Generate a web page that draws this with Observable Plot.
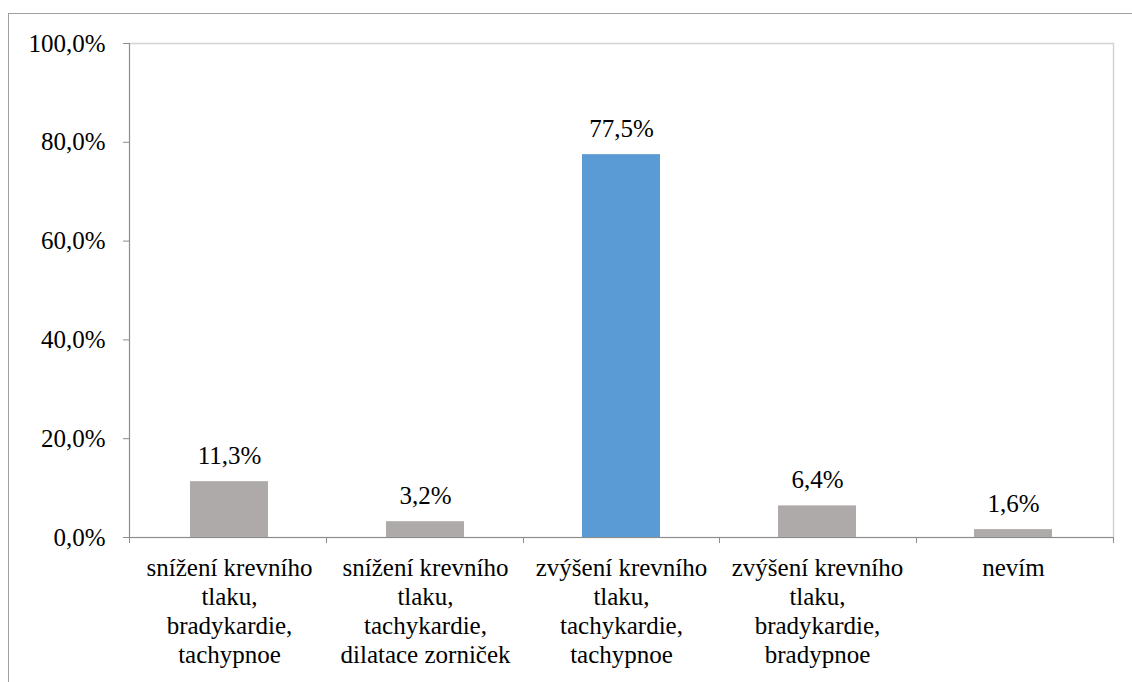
<!DOCTYPE html>
<html><head><meta charset="utf-8">
<script src="https://cdn.jsdelivr.net/npm/d3@7"></script>
<script src="https://cdn.jsdelivr.net/npm/@observablehq/plot@0.6"></script>
<style>
html,body{margin:0;padding:0;background:#fff;overflow:hidden;width:1132px;height:682px}
#chart{position:absolute;left:0;top:0}
#chart text, #chart tspan{font-family:"Liberation Serif",serif !important;font-size:25px !important}
#frame{position:absolute;left:8px;top:13px;right:-10px;bottom:-10px;border:1px solid #a0a0a0;pointer-events:none}
</style></head><body>
<div id="chart"></div><div id="frame"></div>
<script>
const categories = [
  "snížení krevního\ntlaku,\nbradykardie,\ntachypnoe",
  "snížení krevního\ntlaku,\ntachykardie,\ndilatace zorniček",
  "zvýšení krevního\ntlaku,\ntachykardie,\ntachypnoe",
  "zvýšení krevního\ntlaku,\nbradykardie,\nbradypnoe",
  "nevím"
];
const values = [11.3, 3.2, 77.5, 6.4, 1.6];
const highlighted = "zvýšení krevního\ntlaku,\ntachykardie,\ntachypnoe";
const yTicks = [0, 20, 40, 60, 80, 100];

const data = categories.map((c, i) => ({category: c, value: values[i]}));
const fmt = v => v.toFixed(1).replace(".", ",") + "%";

function axisLines(index, scales, vals, dimensions) {
  const {width, marginLeft, marginRight} = dimensions;
  const y0 = scales.y(0), y1 = scales.y(100);
  const n = categories.length;
  const step = (width - marginLeft - marginRight) / n;
  const g = d3.create("svg:g").attr("stroke", "#8c8c8c").attr("stroke-width", 1).attr("fill", "none");
  g.append("line").attr("x1", marginLeft + 0.5).attr("x2", marginLeft + 0.5).attr("y1", y1).attr("y2", y0);
  g.append("line").attr("x1", marginLeft).attr("x2", width - marginRight).attr("y1", y0 + 0.5).attr("y2", y0 + 0.5);
  for (let i = 0; i <= n; i++) {
    const x = Math.round(marginLeft + i * step) + 0.5;
    g.append("line").attr("x1", x).attr("x2", x).attr("y1", y0).attr("y2", y0 + 6);
  }
  return g.node();
}

const chart = Plot.plot({
  width: 1132, height: 682,
  marginLeft: 129, marginRight: 19, marginTop: 43, marginBottom: 145,
  style: {font: "25px 'Liberation Serif', serif", color: "#000", background: "transparent"},
  x: {domain: categories, paddingInner: 0.6, paddingOuter: 0.3, label: null},
  y: {domain: [0, 100], ticks: yTicks, label: null},
  color: {type: "identity"},
  marks: [
    Plot.frame({stroke: "#d4d4d4", strokeWidth: 1.5}),
    Plot.barY(data, {x: "category", y: "value", fill: d => d.category === highlighted ? "#5B9BD5" : "#AEAAAA"}),
    Plot.text(data, {x: "category", y: "value", text: d => fmt(d.value), dy: -26, lineAnchor: "middle", fontSize: 25, fontFamily: "serif", fill: "#000"}),
    Plot.axisY({ticks: yTicks, tickFormat: fmt, tickSize: 6, tickPadding: 18, stroke: "#8c8c8c", fill: "#000", label: null, fontSize: 25, fontFamily: "serif"}),
    Plot.axisX({tickSize: 0, tickPadding: 18, lineHeight: 1.16, label: null, fontSize: 25, fontFamily: "serif", fill: "#000"}),
    axisLines
  ]
});
document.getElementById("chart").appendChild(chart);
function forceFont() {
  chart.querySelectorAll("text, tspan").forEach(el => {
    el.setAttribute("font-family", "Liberation Serif");
    el.style.setProperty("font-family", "'Liberation Serif', serif", "important");
  });
}
forceFont();
requestAnimationFrame(forceFont);
setTimeout(forceFont, 50);
</script>
</body></html>
